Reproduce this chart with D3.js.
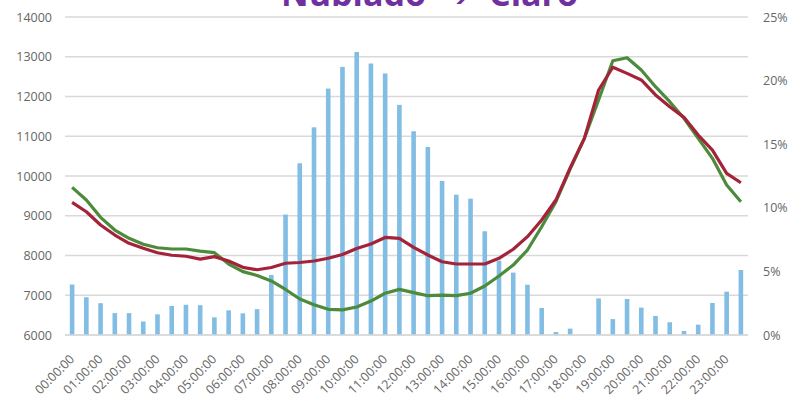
<!DOCTYPE html>
<html>
<head>
<meta charset="utf-8">
<script src="https://cdn.jsdelivr.net/npm/d3@7"></script>
<style>
  html, body { margin: 0; padding: 0; background: #fff; }
  svg { display: block; }
  text { font-family: "Open Sans", "DejaVu Sans", sans-serif; }
</style>
</head>
<body>
<svg id="chart" width="792" height="397"></svg>
<script>
// Hour labels along the bottom axis (one every two half-hour slots)
const hourLabels = [
  "00:00:00","01:00:00","02:00:00","03:00:00","04:00:00","05:00:00",
  "06:00:00","07:00:00","08:00:00","09:00:00","10:00:00","11:00:00",
  "12:00:00","13:00:00","14:00:00","15:00:00","16:00:00","17:00:00",
  "18:00:00","19:00:00","20:00:00","21:00:00","22:00:00","23:00:00"
];

// Half-hourly totals (left axis); null = below the axis floor
const barValues = [
  7270, 6950, 6800, 6550, 6550, 6340, 6520, 6730, 6760, 6750, 6445, 6620,
  6545, 6650, 7510, 9030, 10320, 11225, 12200, 12745, 13120, 12830, 12580, 11790,
  11125, 10730, 9875, 9530, 9430, 8610, 7870, 7570, 7265, 6680, 6075, 6160,
  null, 6920, 6400, 6905, 6690, 6480, 6320, 6100, 6260, 6805, 7090, 7635
];

// Half-hourly share, % (right axis) – green series
const greenShare = [
  11.61, 10.61, 9.25, 8.25, 7.60, 7.13, 6.86, 6.76, 6.76, 6.60, 6.47, 5.58,
  4.98, 4.68, 4.25, 3.58, 2.83, 2.38, 2.02, 1.97, 2.20, 2.67, 3.28, 3.59,
  3.33, 3.09, 3.14, 3.09, 3.28, 3.85, 4.64, 5.50, 6.68, 8.51, 10.48, 13.05,
  15.46, 18.47, 21.56, 21.80, 20.83, 19.52, 18.34, 17.04, 15.46, 13.89, 11.79, 10.48
];

// Half-hourly share, % (right axis) – red series
const redShare = [
  10.42, 9.69, 8.65, 7.86, 7.21, 6.82, 6.47, 6.27, 6.19, 5.97, 6.16, 5.82,
  5.32, 5.13, 5.31, 5.64, 5.70, 5.82, 6.03, 6.33, 6.80, 7.15, 7.67, 7.60,
  6.89, 6.29, 5.76, 5.58, 5.58, 5.58, 6.03, 6.74, 7.73, 9.04, 10.61, 13.13,
  15.46, 19.26, 21.05, 20.57, 20.05, 18.87, 17.95, 17.11, 15.72, 14.54, 12.71, 11.97
];

const leftTicks = [6000, 7000, 8000, 9000, 10000, 11000, 12000, 13000, 14000];
const rightTicks = [0, 5, 10, 15, 20, 25];

const svg = d3.select("#chart");
const plot = { left: 65, right: 748, top: 17, bottom: 335 };

const slots = d3.range(barValues.length);
const x = d3.scaleBand().domain(slots).range([plot.left, plot.right]);
const cx = i => x(i) + x.bandwidth() / 2;

const yLeft = d3.scaleLinear().domain([6000, 14000]).range([plot.bottom, plot.top]);
const yRight = d3.scaleLinear().domain([0, 25]).range([plot.bottom, plot.top]);

// Title (sits partly above the canvas edge)
const title = svg.append("g")
  .attr("fill", "#7030A0")
  .attr("font-weight", "bold")
  .attr("font-size", 34);
title.append("text").attr("x", 281).attr("y", 6).text("Nublado");
title.append("text").attr("x", 457).attr("y", 6).attr("text-anchor", "middle")
  .attr("font-family", "DejaVu Sans").attr("font-size", 28).text("➔");
title.append("text").attr("x", 489).attr("y", 6).text("Claro");

// Horizontal gridlines
svg.append("g")
  .selectAll("line")
  .data(leftTicks)
  .join("line")
  .attr("x1", plot.left).attr("x2", plot.right)
  .attr("y1", d => yLeft(d)).attr("y2", d => yLeft(d))
  .attr("stroke", "#d9d9d9")
  .attr("stroke-width", 1.3);

// Left axis
const leftAxis = svg.append("g")
  .attr("transform", `translate(${plot.left},0)`)
  .call(d3.axisLeft(yLeft).tickValues(leftTicks).tickSize(0).tickPadding(13).tickFormat(d3.format("d")));
leftAxis.select(".domain").remove();
leftAxis.selectAll("text")
  .attr("font-size", 12.5).attr("fill", "#666").attr("font-family", "Open Sans");

// Right axis
const rightAxis = svg.append("g")
  .attr("transform", `translate(${plot.right},0)`)
  .call(d3.axisRight(yRight).tickValues(rightTicks).tickSize(0).tickPadding(15).tickFormat(d => d + "%"));
rightAxis.select(".domain").remove();
rightAxis.selectAll("text")
  .attr("font-size", 12.5).attr("fill", "#666").attr("font-family", "Open Sans");

// Bars
svg.append("g")
  .selectAll("rect")
  .data(slots.filter(i => barValues[i] != null))
  .join("rect")
  .attr("x", i => cx(i) - 2.3)
  .attr("width", 4.6)
  .attr("y", i => yLeft(barValues[i]))
  .attr("height", i => yLeft(6000) - yLeft(barValues[i]))
  .attr("fill", "#82BDE4");

// Bottom axis line
svg.append("line")
  .attr("x1", plot.left).attr("x2", plot.right)
  .attr("y1", plot.bottom).attr("y2", plot.bottom)
  .attr("stroke", "#d9d9d9").attr("stroke-width", 1.3);

// Hour labels, rotated
svg.append("g")
  .selectAll("text")
  .data(hourLabels)
  .join("text")
  .attr("transform", (d, h) => `translate(${cx(h * 2) + 3},${plot.bottom + 25}) rotate(-45)`)
  .attr("text-anchor", "end")
  .attr("font-size", 12.5)
  .attr("fill", "#666")
  .text(d => d);

// Share lines
const line = d3.line()
  .x((d, i) => cx(i))
  .y(d => yRight(d));

svg.append("path")
  .datum(greenShare)
  .attr("d", line)
  .attr("fill", "none")
  .attr("stroke", "#4C8A3C")
  .attr("stroke-width", 3.2)
  .attr("stroke-linejoin", "round");

svg.append("path")
  .datum(redShare)
  .attr("d", line)
  .attr("fill", "none")
  .attr("stroke", "#A3243A")
  .attr("stroke-width", 3.2)
  .attr("stroke-linejoin", "round");
</script>
</body>
</html>
